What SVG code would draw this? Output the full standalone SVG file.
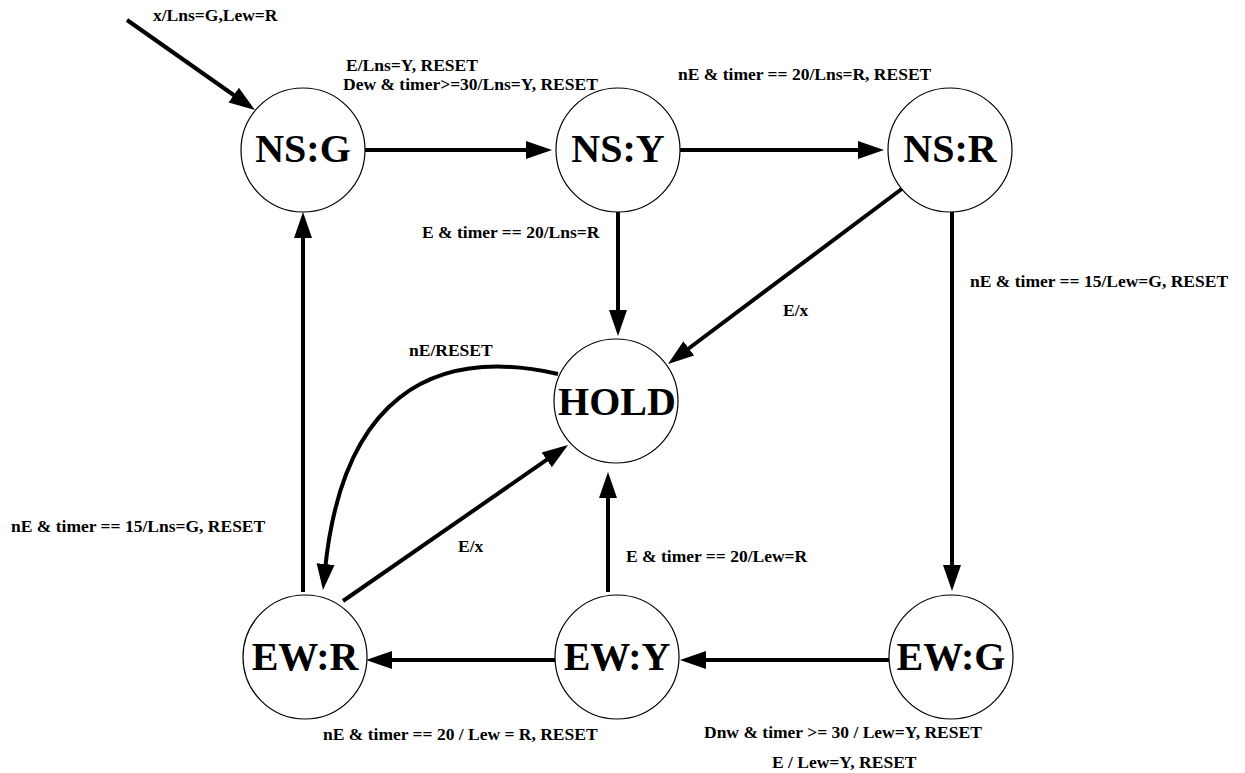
<svg xmlns="http://www.w3.org/2000/svg" width="1245" height="773" viewBox="0 0 1245 773">
<style>
.node circle{fill:#fff;stroke:#000;stroke-width:1.2}
.node text{font-family:"Liberation Serif",serif;font-weight:bold;font-size:40px;text-anchor:middle;fill:#000}
.edge{fill:none;stroke:#000;stroke-width:4;marker-end:url(#arr)}
.lbl{font-family:"Liberation Serif",serif;font-weight:bold;font-size:17.5px;fill:#000}
</style>
<defs>
<marker id="arr" markerUnits="userSpaceOnUse" markerWidth="28" markerHeight="20" viewBox="0 0 28 20" refX="6" refY="10" orient="auto">
<path d="M0,1 L26,10 L0,19 z" fill="#000"/>
</marker>
</defs>
<rect width="1245" height="773" fill="#fff"/>
<g id="connectors">
<line class="edge" x1="127" y1="20" x2="238.6" y2="98.5"/>
<line class="edge" x1="365" y1="150" x2="532" y2="150"/>
<line class="edge" x1="680" y1="150" x2="864" y2="150"/>
<line class="edge" x1="618" y1="212" x2="618" y2="316"/>
<line class="edge" x1="903" y1="188" x2="684" y2="352"/>
<line class="edge" x1="952" y1="210" x2="952" y2="571"/>
<line class="edge" x1="889" y1="660" x2="700" y2="660"/>
<line class="edge" x1="555" y1="660" x2="386" y2="660"/>
<line class="edge" x1="608" y1="592" x2="608" y2="492"/>
<line class="edge" x1="303" y1="592" x2="303" y2="232"/>
<line class="edge" x1="343" y1="601" x2="551.6" y2="456.4"/>
<path class="edge" d="M558,374 C430,345 342,400 325,570"/>
</g>
<g id="labels">
<text class="lbl" x="153" y="21">x/Lns=G,Lew=R</text>
<text class="lbl" x="346" y="71">E/Lns=Y, RESET</text>
<text class="lbl" x="343" y="90">Dew &amp; timer&gt;=30/Lns=Y, RESET</text>
<text class="lbl" x="678" y="80">nE &amp; timer == 20/Lns=R, RESET</text>
<text class="lbl" x="422" y="238">E &amp; timer == 20/Lns=R</text>
<text class="lbl" x="783" y="316">E/x</text>
<text class="lbl" x="409" y="356">nE/RESET</text>
<text class="lbl" x="970" y="287">nE &amp; timer == 15/Lew=G, RESET</text>
<text class="lbl" x="11" y="532">nE &amp; timer == 15/Lns=G, RESET</text>
<text class="lbl" x="458" y="552">E/x</text>
<text class="lbl" x="626" y="562">E &amp; timer == 20/Lew=R</text>
<text class="lbl" x="323" y="740">nE &amp; timer == 20 / Lew = R, RESET</text>
<text class="lbl" x="704" y="738">Dnw &amp; timer &gt;= 30 / Lew=Y, RESET</text>
<text class="lbl" x="772" y="768">E / Lew=Y, RESET</text>
</g>
<g id="NS_G" class="node"><circle cx="303" cy="150" r="62"/><text x="303" y="162">NS:G</text></g>
<g id="NS_Y" class="node"><circle cx="618" cy="150" r="62"/><text x="618" y="162">NS:Y</text></g>
<g id="NS_R" class="node"><circle cx="950" cy="150" r="62"/><text x="950" y="162">NS:R</text></g>
<g id="HOLD" class="node"><circle cx="616" cy="401" r="62"/><text x="617" y="415">HOLD</text></g>
<g id="EW_R" class="node"><circle cx="305" cy="657" r="62"/><text x="305" y="670">EW:R</text></g>
<g id="EW_Y" class="node"><circle cx="617" cy="657" r="62"/><text x="617" y="670">EW:Y</text></g>
<g id="EW_G" class="node"><circle cx="951" cy="657" r="62"/><text x="951" y="670">EW:G</text></g>
</svg>
